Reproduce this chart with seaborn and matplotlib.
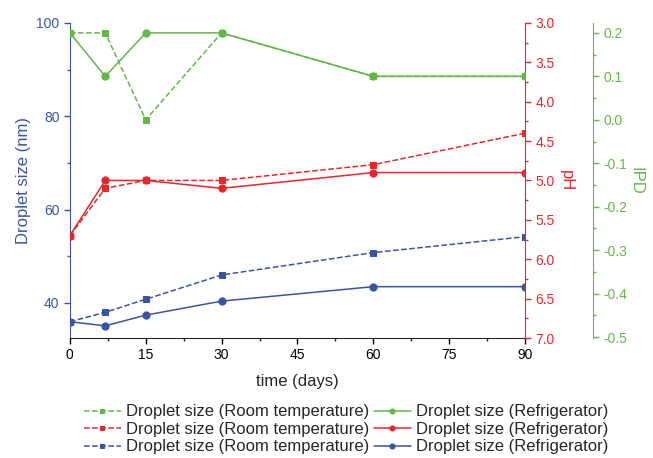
import matplotlib
matplotlib.use("Agg")
import matplotlib.pyplot as plt
from matplotlib.ticker import MultipleLocator
import seaborn as sns

days = [0, 7, 15, 30, 60, 90]

# IPD (green)
ipd_room = [0.2, 0.2, 0.0, 0.2, 0.1, 0.1]
ipd_fridge = [0.2, 0.1, 0.2, 0.2, 0.1, 0.1]

# pH (red)
ph_room = [5.7, 5.1, 5.0, 5.0, 4.8, 4.4]
ph_fridge = [5.7, 5.0, 5.0, 5.1, 4.9, 4.9]

# droplet size in nm (blue)
size_room = [36.0, 38.0, 40.8, 46.0, 50.8, 54.2]
size_fridge = [36.0, 35.1, 37.4, 40.4, 43.5, 43.5]

room_label = "Droplet size (Room temperature)"
fridge_label = "Droplet size (Refrigerator)"

blue = "#3a54a4"
red = "#e5262b"
green = "#62b845"

sns.set_style("ticks")
plt.rcParams["font.family"] = ["Liberation Sans", "DejaVu Sans"]

fig = plt.figure(figsize=(6.53, 4.58), dpi=100)
ax = fig.add_axes([0.107, 0.262, 0.697, 0.688])
ax2 = ax.twinx()
ax3 = ax.twinx()

lw = 1.1
ms_sq = 4.3
ms_ci = 5.2

sns.lineplot(x=days, y=size_room, ax=ax, color=blue, marker="s", markersize=ms_sq,
             linestyle="--", linewidth=lw, markeredgecolor=blue, label=room_label)
sns.lineplot(x=days, y=size_fridge, ax=ax, color=blue, marker="o", markersize=ms_ci,
             linewidth=lw, markeredgecolor=blue, label=fridge_label)
sns.lineplot(x=days, y=ph_room, ax=ax2, color=red, marker="s", markersize=ms_sq,
             linestyle="--", linewidth=lw, markeredgecolor=red, label=room_label)
sns.lineplot(x=days, y=ph_fridge, ax=ax2, color=red, marker="o", markersize=ms_ci,
             linewidth=lw, markeredgecolor=red, label=fridge_label)
sns.lineplot(x=days, y=ipd_room, ax=ax3, color=green, marker="s", markersize=ms_sq,
             linestyle="--", linewidth=lw, markeredgecolor=green, label=room_label)
sns.lineplot(x=days, y=ipd_fridge, ax=ax3, color=green, marker="o", markersize=ms_ci,
             linewidth=lw, markeredgecolor=green, label=fridge_label)

for a in (ax, ax2, ax3):
    leg = a.get_legend()
    if leg is not None:
        leg.remove()

# x axis
ax.set_xlim(0, 90)
ax.xaxis.set_major_locator(MultipleLocator(15))
ax.xaxis.set_minor_locator(MultipleLocator(7.5))
ax.set_xlabel("time (days)", fontsize=12, labelpad=8)
ax.tick_params(axis="x", labelsize=10, length=4, width=1, colors="black")
ax.tick_params(axis="x", which="minor", length=2.5, width=1)

# left axis
ax.set_ylim(32.5, 100)
ax.yaxis.set_major_locator(MultipleLocator(20))
ax.yaxis.set_minor_locator(MultipleLocator(10))
ax.set_ylabel("Droplet size (nm)", color=blue, fontsize=12)
ax.tick_params(axis="y", which="both", colors=blue, labelsize=10, width=1)
ax.tick_params(axis="y", which="major", length=4)
ax.tick_params(axis="y", which="minor", length=2.5)
ax.spines["left"].set_color(blue)
ax.spines["top"].set_visible(False)
ax.spines["right"].set_visible(False)

# pH axis
ax2.set_ylim(7.0, 3.0)
ax2.yaxis.set_major_locator(MultipleLocator(0.5))
ax2.yaxis.set_minor_locator(MultipleLocator(0.25))
ax2.set_ylabel("pH", color=red, fontsize=12, rotation=270, labelpad=14)
ax2.tick_params(axis="y", which="both", colors=red, labelsize=10, width=1)
ax2.tick_params(axis="y", which="major", length=4)
ax2.tick_params(axis="y", which="minor", length=2.5)
ax2.yaxis.set_major_formatter(plt.FuncFormatter(lambda v, p: f"{v:.1f}"))
for s in ("top", "left", "bottom"):
    ax2.spines[s].set_visible(False)
ax2.spines["right"].set_color(red)

# IPD axis
ax3.spines["right"].set_position(("axes", 1.149))
ax3.set_ylim(-0.502, 0.223)
ax3.yaxis.set_major_locator(MultipleLocator(0.1))
ax3.yaxis.set_minor_locator(MultipleLocator(0.05))
ax3.set_ylabel("IPD", color=green, fontsize=12, rotation=270, labelpad=12)
ax3.tick_params(axis="y", which="both", colors=green, labelsize=10, width=1)
ax3.tick_params(axis="y", which="major", length=4)
ax3.tick_params(axis="y", which="minor", length=2.5)
ax3.yaxis.set_major_formatter(plt.FuncFormatter(lambda v, p: f"{v:.1f}"))
for s in ("top", "left", "bottom"):
    ax3.spines[s].set_visible(False)
ax3.spines["right"].set_color(green)

# legend: rows green, red, blue; columns room temp, refrigerator
hb, _ = ax.get_legend_handles_labels()
hr, _ = ax2.get_legend_handles_labels()
hg, _ = ax3.get_legend_handles_labels()
handles = [hg[0], hr[0], hb[0], hg[1], hr[1], hb[1]]
labels = [room_label] * 3 + [fridge_label] * 3
fig.legend(handles, labels, loc="lower center", bbox_to_anchor=(0.53, -0.025),
           ncol=2, frameon=False, fontsize=12, handlelength=2.2,
           columnspacing=0.3, handletextpad=0.3, labelspacing=0.15,
           markerscale=0.7)

fig.savefig("out.png", dpi=100)
